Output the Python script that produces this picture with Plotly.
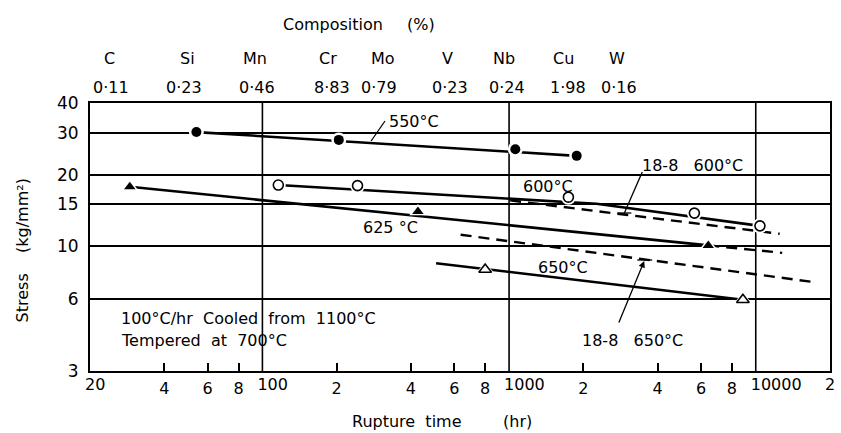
import plotly.graph_objects as go

# ---------------- data ----------------
elements = ["C", "Si", "Mn", "Cr", "Mo", "V", "Nb", "Cu", "W"]
composition = ["0·11", "0·23", "0·46", "8·83", "0·79", "0·23", "0·24", "1·98", "0·16"]

# 550 °C  (filled circles)
t_550 = [54, 204, 1060, 1880]
s_550 = [30.2, 28.0, 25.6, 24.0]
fit_550_t = [54, 1880]
fit_550_s = [30.2, 24.0]

# 600 °C  (open circles)
t_600 = [116, 243, 1740, 5640, 10400]
s_600 = [18.1, 18.0, 16.1, 13.8, 12.2]
fit_600_t = [116, 2260, 10400]
fit_600_s = [18.1, 15.1, 12.2]

# 625 °C  (filled triangles)
t_625 = [29, 427, 6420]
s_625 = [17.8, 14.0, 10.1]
fit_625_t = [29, 6420]
fit_625_s = [17.8, 10.1]
ext_625_t = [6420, 12800]
ext_625_s = [10.1, 9.4]

# 650 °C  (open triangles)
t_650 = [800, 8870]
s_650 = [8.0, 5.97]
fit_650_t = [506, 8870]
fit_650_s = [8.5, 5.97]

# 18-8 steel reference curves (dashed)
t_188_600 = [1010, 12500]
s_188_600 = [15.6, 11.3]
t_188_650 = [636, 16900]
s_188_650 = [11.2, 7.1]

# minor (single digit) tick labels
x_minor_vals = [40, 60, 80, 200, 400, 600, 800, 2000, 4000, 6000, 8000]
x_minor_text = ["4", "6", "8", "2", "4", "6", "8", "2", "4", "6", "8"]
# decade tick labels
x_major_vals = [20, 100, 1000, 10000, 20000]
x_major_text = ["20", "100", "1000", "10000", "2"]
y_tickvals = [3, 6, 10, 15, 20, 30, 40]
y_ticktext = ["3", "6", "10", "15", "20", "30", "40"]
x_grid = [100, 1000, 10000]

# ---------------- layout helpers ----------------
W, H = 841, 433
L, R, T, B = 90, 6, 103, 62
FONT = "DejaVu Sans"


def pxx(xp):
    return (xp - L) / (W - L - R)


def pyy(yp):
    return (H - B - yp) / (H - T - B)


fig = go.Figure()

solid = dict(color="black", width=2.6)
dashed = dict(color="black", width=2.4, dash="11px,7px")

# lines
fig.add_trace(go.Scatter(x=fit_550_t, y=fit_550_s, mode="lines", line=solid))
fig.add_trace(go.Scatter(x=fit_600_t, y=fit_600_s, mode="lines", line=solid))
fig.add_trace(go.Scatter(x=fit_625_t, y=fit_625_s, mode="lines", line=solid))
fig.add_trace(go.Scatter(x=ext_625_t, y=ext_625_s, mode="lines", line=dashed))
fig.add_trace(go.Scatter(x=fit_650_t, y=fit_650_s, mode="lines", line=solid))
fig.add_trace(go.Scatter(x=t_188_600, y=s_188_600, mode="lines", line=dashed))
fig.add_trace(go.Scatter(x=t_188_650, y=s_188_650, mode="lines", line=dashed))

# white halos around markers
for tx, sy, sym, sz in [(t_550, s_550, "circle", 15), (t_600, s_600, "circle", 15),
                        (t_625, s_625, "triangle-up", 15), (t_650, s_650, "triangle-up", 16)]:
    fig.add_trace(go.Scatter(x=tx, y=sy, mode="markers",
                             marker=dict(symbol=sym, size=sz, color="white", line=dict(width=0))))

# markers
fig.add_trace(go.Scatter(x=t_550, y=s_550, mode="markers",
                         marker=dict(symbol="circle", size=10, color="black")))
fig.add_trace(go.Scatter(x=t_600, y=s_600, mode="markers",
                         marker=dict(symbol="circle", size=10, color="white",
                                     line=dict(color="black", width=1.6))))
fig.add_trace(go.Scatter(x=t_625, y=s_625, mode="markers",
                         marker=dict(symbol="triangle-up", size=10, color="black")))
fig.add_trace(go.Scatter(x=t_650, y=s_650, mode="markers",
                         marker=dict(symbol="triangle-up", size=11, color="white",
                                     line=dict(color="black", width=1.6))))

# invisible trace so that the decade-label axis is drawn
fig.add_trace(go.Scatter(x=fit_550_t, y=fit_550_s, xaxis="x2", mode="lines",
                         line=dict(width=0), opacity=0, hoverinfo="skip"))

shapes = []
for g in x_grid:
    shapes.append(dict(type="line", xref="x", yref="paper", x0=g, x1=g, y0=0, y1=1,
                       line=dict(color="black", width=1.6), layer="below"))

# leader lines
def seg(x0, y0, x1, y1, w=1.3):
    shapes.append(dict(type="line", xref="paper", yref="paper",
                       x0=pxx(x0), y0=pyy(y0), x1=pxx(x1), y1=pyy(y1),
                       line=dict(color="black", width=w)))

seg(387, 121, 373, 141)          # 550 leader
seg(646, 172, 628, 213)          # 18-8 600 leader
seg(621, 213, 635, 213)          # T end
seg(641, 260, 656, 260)          # T end of 18-8 650

annotations = []


def txt(text, xp, yp, size=16, xanchor="center", **kw):
    annotations.append(dict(text=text, xref="paper", yref="paper", x=pxx(xp), y=pyy(yp),
                            xanchor=xanchor, yanchor="middle", showarrow=False,
                            font=dict(family=FONT, size=size, color="black"), **kw))


# curve labels
txt("550°C", 416, 121)
txt("600°C", 551, 186)
txt("625 °C", 393, 227)
txt("650°C", 566, 267)
txt("18-8   600°C", 697, 165)
txt("18-8   650°C", 636, 340)

# arrow for 18-8 650
annotations.append(dict(text="", xref="paper", yref="paper", x=pxx(648), y=pyy(261),
                        ax=-26, ay=63, showarrow=True, arrowhead=2, arrowsize=1,
                        arrowwidth=1.3, arrowcolor="black"))

# conditions
txt("100°C/hr  Cooled  from  1100°C", 119, 318, xanchor="left")
txt("Tempered  at  700°C", 119, 340, xanchor="left")

# composition header
txt("Composition", 335, 25)
txt("(%)", 423, 25)
el_x = [110, 188, 256, 330, 385, 450, 507, 567, 621]
val_x = [111, 185, 258, 334, 381, 452, 510, 571, 623]
for e, xp in zip(elements, el_x):
    txt(e, xp, 59)
for v, xp in zip(composition, val_x):
    txt(v, xp, 87)

# axis titles
txt("Rupture  time", 409, 421)
txt("(hr)", 520, 421)
annotations.append(dict(text="Stress    (kg/mm²)", xref="paper", yref="paper",
                        x=pxx(22), y=pyy(250), textangle=-90, showarrow=False,
                        xanchor="center", yanchor="middle",
                        font=dict(family=FONT, size=16, color="black")))

xrange_ = [1.30103, 4.30103]
fig.update_layout(
    width=W, height=H,
    margin=dict(l=L, r=R, t=T, b=B),
    paper_bgcolor="white", plot_bgcolor="white",
    showlegend=False,
    font=dict(family=FONT, size=16, color="black"),
    shapes=shapes, annotations=annotations,
    xaxis=dict(type="log", range=xrange_,
               tickmode="array", tickvals=x_minor_vals, ticktext=x_minor_text,
               tickangle=0, ticklabelstandoff=2,
               ticks="inside", ticklen=8, tickwidth=1.5, tickcolor="black",
               showgrid=False, zeroline=False,
               showline=True, linecolor="black", linewidth=2, mirror=True,
               tickfont=dict(family=FONT, size=16, color="black")),
    xaxis2=dict(type="log", range=xrange_, overlaying="x", side="bottom", anchor="y",
                tickmode="array", tickvals=x_major_vals, ticktext=x_major_text,
                tickangle=0, ticklabelposition="outside right", ticklabelshift=-5,
                ticklabelstandoff=2, ticks="", showgrid=False, zeroline=False,
                showline=False,
                tickfont=dict(family=FONT, size=16, color="black")),
    yaxis=dict(type="log", range=[0.47712, 1.60206],
               tickmode="array", tickvals=y_tickvals, ticktext=y_ticktext,
               ticks="", ticklabelstandoff=6,
               showgrid=True, gridcolor="black", gridwidth=1.6,
               zeroline=False,
               showline=True, linecolor="black", linewidth=2, mirror=True,
               tickfont=dict(family=FONT, size=17, color="black")),
)

fig.write_html("out.html")
